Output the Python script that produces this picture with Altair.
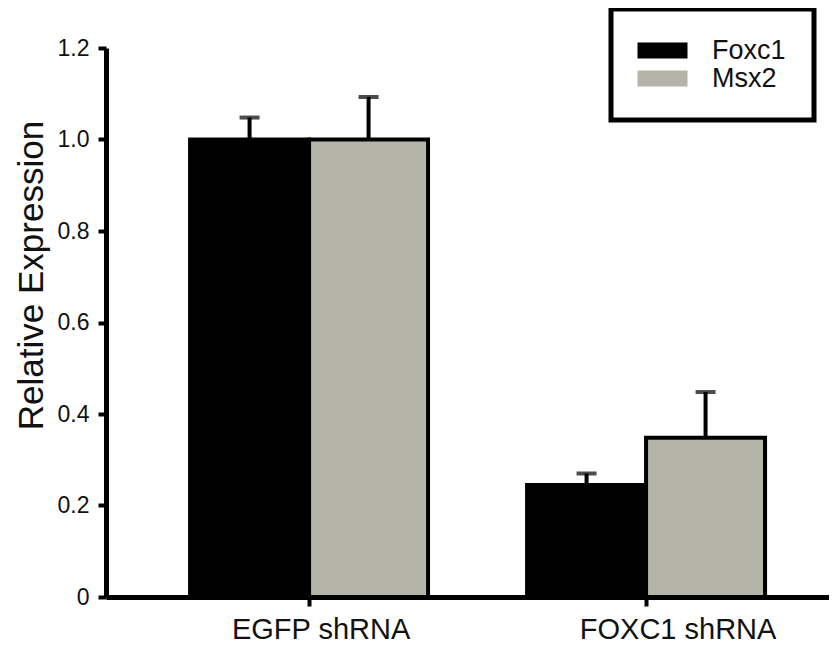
import altair as alt
import pandas as pd

groups = ["EGFP shRNA", "FOXC1 shRNA"]
series = ["Foxc1", "Msx2"]
foxc1_mean = [1.0, 0.245]
foxc1_err = [0.048, 0.025]
msx2_mean = [1.0, 0.348]
msx2_err = [0.093, 0.10]
y_ticks = [0, 0.2, 0.4, 0.6, 0.8, 1.0, 1.2]
bar_colors = ["#000000", "#b5b4a9"]

rows = []
for i, g in enumerate(groups):
    rows.append({"group": g, "series": "Foxc1", "value": foxc1_mean[i],
                 "top": foxc1_mean[i] + foxc1_err[i]})
    rows.append({"group": g, "series": "Msx2", "value": msx2_mean[i],
                 "top": msx2_mean[i] + msx2_err[i]})
df = pd.DataFrame(rows)

FONT = "Liberation Sans"

x_enc = alt.X(
    "group:N", sort=groups,
    scale=alt.Scale(paddingInner=0.2938, paddingOuter=0.2196, align=0.568),
    axis=alt.Axis(title=None, labelAngle=0, labelFontSize=29, labelColor="#111",
                  labelFont=FONT, labelPadding=9, labelLimit=400,
                  labelOffset=alt.ExprRef("datum.value == 'FOXC1 shRNA' ? 32 : 12"),
                  tickSize=9, tickWidth=4, tickColor="black",
                  domainWidth=5, domainColor="black", grid=False),
)
xo_enc = alt.XOffset("series:N", sort=series,
                     scale=alt.Scale(paddingInner=0, paddingOuter=0))

y_scale = alt.Scale(domain=[0, 1.2], nice=False, zero=True)
y_enc = alt.Y(
    "value:Q", scale=y_scale,
    axis=alt.Axis(values=y_ticks, grid=False,
                  labelExpr="datum.value == 0 ? '0' : format(datum.value, '.1f')",
                  labelFontSize=23, labelColor="#111", labelFont=FONT, labelPadding=9,
                  tickSize=8, tickWidth=4, tickColor="black",
                  domainWidth=5, domainColor="black",
                  title="Relative Expression", titleFontSize=35, titleFont=FONT,
                  titleFontWeight="normal", titleColor="#111",
                  titleAngle=270, titleAlign="center", titleBaseline="alphabetic",
                  titleX=-64, titleY=227),
)

bars = alt.Chart(df).mark_bar(stroke="black", strokeWidth=4).encode(
    x=x_enc, xOffset=xo_enc, y=y_enc,
    fill=alt.Fill("series:N", scale=alt.Scale(domain=series, range=bar_colors),
                  legend=alt.Legend(title=None, orient="none", legendX=505, legendY=-39,
                                    fillColor="white", strokeColor="black",
                                    padding=28, cornerRadius=0,
                                    symbolType="M-1.875,-1H4.375V1H-1.875Z", symbolSize=256,
                                    symbolOpacity=1, symbolStrokeWidth=0,
                                    labelExpr="datum.label + '     '",
                                    labelFontSize=27, labelFont=FONT, labelColor="#111",
                                    labelOffset=46, rowPadding=0)),
)

err = alt.Chart(df).mark_rule(color="black", strokeWidth=4).encode(
    x=x_enc, xOffset=xo_enc, y=alt.Y("value:Q", scale=y_scale), y2="top:Q",
)

caps = alt.Chart(df).mark_tick(color="black", thickness=4, size=20, orient="horizontal").encode(
    x=x_enc, xOffset=xo_enc, y=alt.Y("top:Q", scale=y_scale),
)

chart = alt.layer(bars, err, caps).properties(
    width=723, height=549,
    autosize=alt.AutoSizeParams(type="none"),
    padding={"left": 98, "top": 40, "right": 0, "bottom": 48},
).configure(
    font=FONT,
    view=alt.ViewConfig(stroke=None),
    legend=alt.LegendConfig(strokeWidth=5),
)

chart.save("out.html", embed_options={"renderer": "svg", "actions": False})
